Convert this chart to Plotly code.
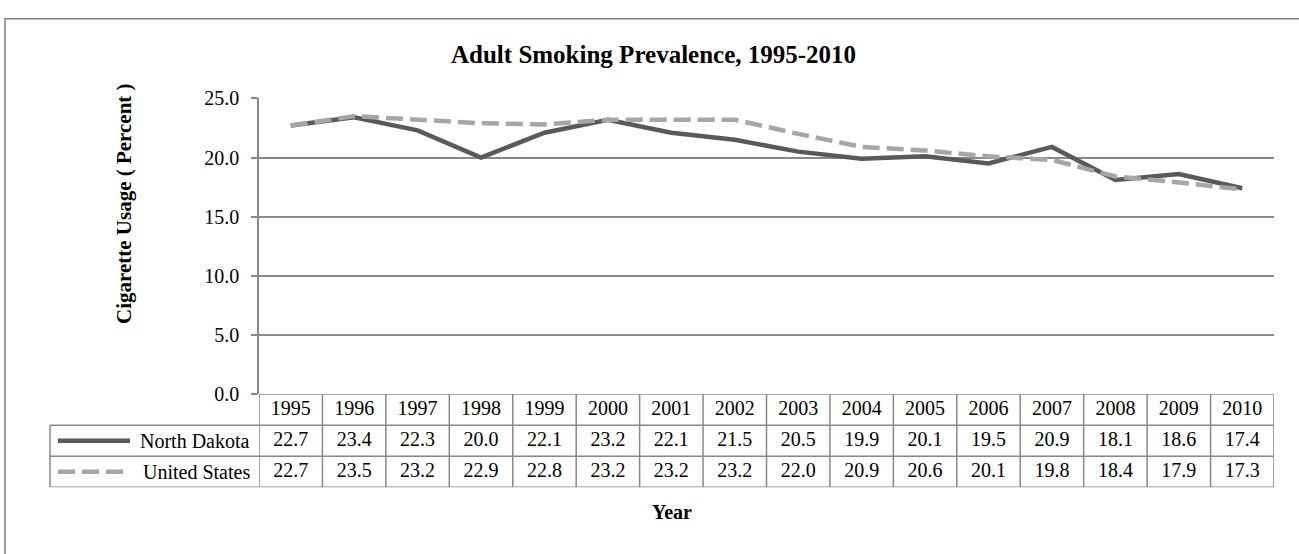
import plotly.graph_objects as go

years = ["1995", "1996", "1997", "1998", "1999", "2000", "2001", "2002",
         "2003", "2004", "2005", "2006", "2007", "2008", "2009", "2010"]
north_dakota = [22.7, 23.4, 22.3, 20.0, 22.1, 23.2, 22.1, 21.5,
                20.5, 19.9, 20.1, 19.5, 20.9, 18.1, 18.6, 17.4]
united_states = [22.7, 23.5, 23.2, 22.9, 22.8, 23.2, 23.2, 23.2,
                 22.0, 20.9, 20.6, 20.1, 19.8, 18.4, 17.9, 17.3]
series_names = ["North Dakota", "United States"]
y_ticks = [0, 5, 10, 15, 20, 25]

W, H = 1299, 554
FONT = "Liberation Serif"
GRID = "#888888"
ND_COLOR = "#595959"
US_COLOR = "#a6a6a6"
US_DASH = "17px,7px"

def px(x):
    return x / W

def py(y):
    return 1 - y / H

PLOT_L, PLOT_R, PLOT_T, PLOT_B = 259, 1274, 91, 399
TABLE_B = 496
LEFT_COL = 50

fig = go.Figure()

fig.add_trace(go.Scatter(x=years, y=north_dakota, mode="lines", name=series_names[0],
                         line=dict(color=ND_COLOR, width=4.5), showlegend=False,
                         xaxis="x", yaxis="y"))
fig.add_trace(go.Scatter(x=years, y=united_states, mode="lines", name=series_names[1],
                         line=dict(color=US_COLOR, width=4.5, dash=US_DASH), showlegend=False,
                         xaxis="x", yaxis="y"))

# data table text
def tfont():
    return dict(family=FONT, size=20, color="black")

rows = [(0.5, years),
        (1.5, [f"{v:.1f}" for v in north_dakota]),
        (2.5, [f"{v:.1f}" for v in united_states])]
for yy, labels in rows:
    fig.add_trace(go.Scatter(x=years, y=[yy] * len(years), mode="text", text=labels,
                             textfont=tfont(), textposition="middle center",
                             showlegend=False, hoverinfo="skip", xaxis="x", yaxis="y2"))

shapes = []
n = len(years)
LW = 1.5
# table horizontal lines
shapes.append(dict(type="line", xref="x", yref="y2", x0=-0.5, x1=n - 0.5, y0=0, y1=0,
                   line=dict(color=GRID, width=LW)))
for r in [1, 2, 3]:
    shapes.append(dict(type="line", xref="paper", yref="y2", x0=px(LEFT_COL), x1=px(PLOT_R),
                       y0=r, y1=r, line=dict(color=GRID, width=LW)))
# table vertical lines
for i in range(n + 1):
    shapes.append(dict(type="line", xref="x", yref="y2", x0=i - 0.5, x1=i - 0.5, y0=0, y1=3,
                       line=dict(color=GRID, width=LW)))
shapes.append(dict(type="line", xref="paper", yref="y2", x0=px(LEFT_COL), x1=px(LEFT_COL),
                   y0=1, y1=3, line=dict(color=GRID, width=LW)))
# legend keys
shapes.append(dict(type="line", xref="paper", yref="y2", x0=px(58), x1=px(130), y0=1.5, y1=1.5,
                   line=dict(color=ND_COLOR, width=4.5)))
shapes.append(dict(type="line", xref="paper", yref="y2", x0=px(58), x1=px(124), y0=2.5, y1=2.5,
                   line=dict(color=US_COLOR, width=4.5, dash=US_DASH)))
# outer chart border
shapes.append(dict(type="rect", xref="paper", yref="paper", x0=px(5), x1=1.05, y0=-0.05, y1=py(8),
                   line=dict(color="#7f7f7f", width=1.5), fillcolor="rgba(0,0,0,0)"))

annotations = [
    dict(text="<b>Adult Smoking Prevalence, 1995-2010</b>", xref="paper", yref="paper",
         x=px(653), y=py(45), showarrow=False, xanchor="center", yanchor="middle",
         font=dict(family=FONT, size=25, color="black")),
    dict(text="<b>Cigarette Usage ( Percent )</b>", xref="paper", yref="paper",
         x=px(124), y=py(201), showarrow=False, textangle=-90, xanchor="center", yanchor="middle",
         font=dict(family=FONT, size=21, color="black")),
    dict(text="<b>Year</b>", xref="paper", yref="paper", x=px(672), y=py(522), showarrow=False,
         xanchor="center", yanchor="middle", font=dict(family=FONT, size=20, color="black")),
    dict(text=series_names[0], xref="paper", yref="y2", x=px(252), y=1.5, showarrow=False,
         xanchor="right", yanchor="middle", font=tfont()),
    dict(text=series_names[1], xref="paper", yref="y2", x=px(252), y=2.5, showarrow=False,
         xanchor="right", yanchor="middle", font=tfont()),
]

fig.update_layout(
    width=W, height=H,
    margin=dict(l=0, r=0, t=0, b=0),
    paper_bgcolor="white", plot_bgcolor="white",
    font=dict(family=FONT, size=20, color="black"),
    xaxis=dict(domain=[px(PLOT_L), px(PLOT_R)], type="category", range=[-0.5, n - 0.5],
               showticklabels=False, showgrid=False, zeroline=False, showline=False,
               ticks="", anchor="y", fixedrange=True),
    yaxis=dict(domain=[py(PLOT_B), py(PLOT_T)], range=[0, 25], tickvals=y_ticks,
               tickformat=".1f", showgrid=True, gridcolor=GRID, gridwidth=LW,
               zeroline=False, showline=True, linecolor=GRID, linewidth=LW,
               ticks="outside", ticklen=6, tickcolor=GRID, tickwidth=LW,
               ticklabelstandoff=8,
               tickfont=dict(family=FONT, size=20, color="black"), anchor="x", fixedrange=True),
    yaxis2=dict(domain=[py(TABLE_B), py(PLOT_B)], range=[3, 0], visible=False,
                anchor="x", fixedrange=True),
    shapes=shapes,
    annotations=annotations,
)

fig.write_html("out.html")
